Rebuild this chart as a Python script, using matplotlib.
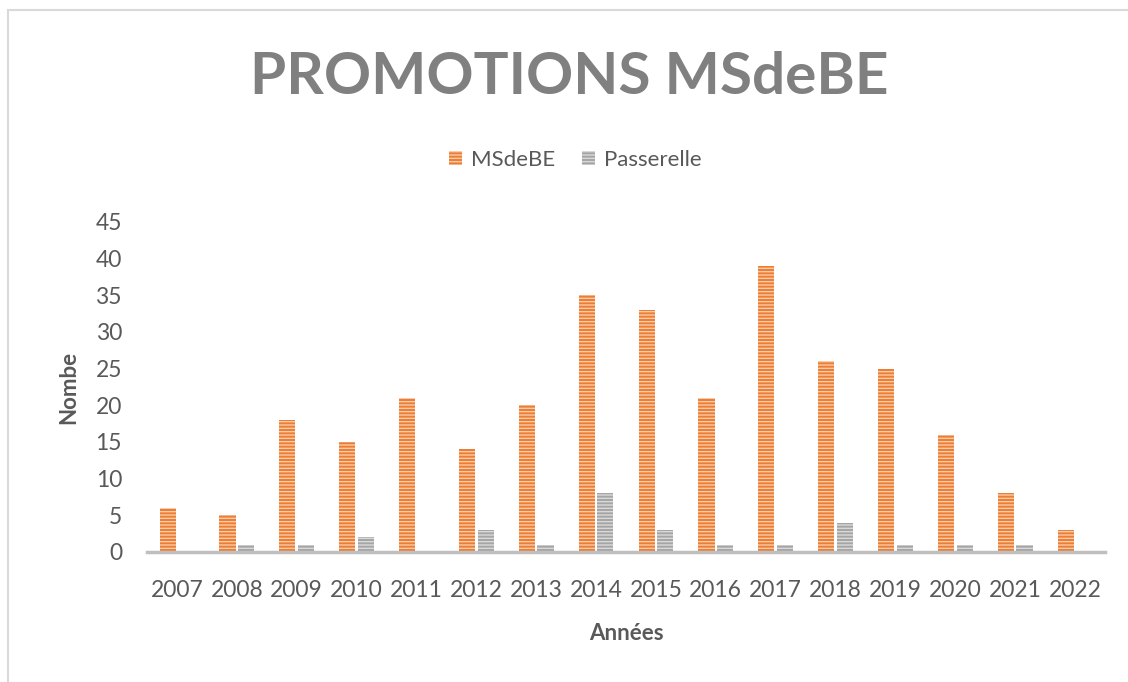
import numpy as np
import matplotlib.pyplot as plt
from matplotlib.patches import Rectangle

plt.rcParams['hatch.linewidth'] = 1.0

# promotions per year
years = ['2007', '2008', '2009', '2010', '2011', '2012', '2013', '2014',
         '2015', '2016', '2017', '2018', '2019', '2020', '2021', '2022']
msdebe = [6, 5, 18, 15, 21, 14, 20, 35, 33, 21, 39, 26, 25, 16, 8, 3]
passerelle = [0, 1, 1, 2, 0, 3, 1, 8, 3, 1, 1, 4, 1, 1, 1, 0]

txt = '#595959'
font = 'Lato'

fig = plt.figure(figsize=(11.28, 6.82), dpi=100)
ax = fig.add_axes([147/1128, 1-552/682, (1105-147)/1128, 330/682])

# light frame of the chart area
fig.patches.append(Rectangle((8/1128, -0.1), 1.2, 1.1 - 10/682,
                             transform=fig.transFigure, fill=False,
                             edgecolor='#D9D9D9', linewidth=1.5))

x = np.arange(len(years))
w = 0.27
ax.bar(x - 0.155, msdebe, w, color='#ED7D31', hatch='-----',
       edgecolor='#F8CBAD', linewidth=0, label='MSdeBE')
ax.bar(x + 0.155, passerelle, w, color='#A5A5A5', hatch='-----',
       edgecolor='#D9D9D9', linewidth=0, label='Passerelle')

ax.set_xlim(-0.5, len(years) - 0.5)
ax.set_ylim(0, 45)
ax.set_yticks(range(0, 46, 5))
ax.set_xticks(x)
ax.set_xticklabels(years)
for s in ['top', 'right', 'left']:
    ax.spines[s].set_visible(False)
ax.spines['bottom'].set_color('#BFBFBF')
ax.spines['bottom'].set_linewidth(2.5)
ax.tick_params(length=0, labelsize=16.5, labelcolor=txt)
ax.tick_params(axis='y', pad=18)
ax.tick_params(axis='x', pad=20)
for lab in ax.get_xticklabels() + ax.get_yticklabels():
    lab.set_fontfamily(font)

ax.set_xlabel('Années', fontsize=16, fontweight='bold', color=txt,
              fontfamily=font, labelpad=16)
ax.set_ylabel('Nombe', fontsize=16, fontweight='bold', color=txt,
              fontfamily=font, labelpad=12)

fig.text(0.505, 1-78/682, 'PROMOTIONS MSdeBE', ha='center', va='center',
         fontsize=42, fontweight='bold', color='#808080', fontfamily=font)

leg = fig.legend(loc='center', bbox_to_anchor=(0.51, 1-160/682), ncol=2,
                 frameon=False, handlelength=0.6, handleheight=0.6,
                 handletextpad=0.4, columnspacing=1.2,
                 prop={'family': font, 'size': 16})
for t in leg.get_texts():
    t.set_color(txt)

fig.savefig('out.png', dpi=100)
